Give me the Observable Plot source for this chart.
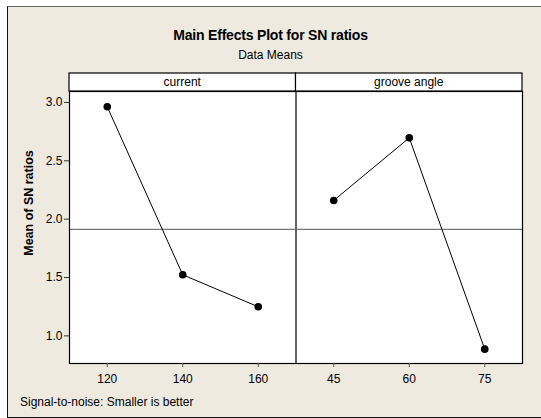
<!DOCTYPE html>
<html>
<head>
<meta charset="utf-8">
<script src="https://cdn.jsdelivr.net/npm/d3@7"></script>
<script src="https://cdn.jsdelivr.net/npm/@observablehq/plot@0.6"></script>
<style>
  html, body { margin: 0; padding: 0; background: #ffffff; }
  #wrap { position: relative; width: 541px; height: 418px; overflow: hidden; font-family: "Liberation Sans", Arial, sans-serif; }
  #panel { position: absolute; left: 7px; top: 6px; width: 560px; height: 410px;
           background: #eeeae0; border-left: 1px solid #111; border-top: 1px solid #666; border-bottom: 1px solid #111; }
  #chart { position: absolute; left: 0; top: 0; }
  .t { position: absolute; left: 0; width: 541px; text-align: center; color: #000; white-space: nowrap; }
  #title { top: 27px; font-size: 14px; font-weight: bold; letter-spacing: -0.2px; }
  #subtitle { top: 48px; font-size: 12px; }
  #caption { position: absolute; left: 20px; top: 395px; font-size: 12px; white-space: nowrap; }
</style>
</head>
<body>
<div id="wrap">
  <div id="panel"></div>
  <div id="chart"></div>
  <div class="t" id="title">Main Effects Plot for SN ratios</div>
  <div class="t" id="subtitle">Data Means</div>
  <div id="caption">Signal-to-noise: Smaller is better</div>
</div>
<script>
// ---- data ----
const factors = ["current", "groove angle"];
const currentLevels = ["120", "140", "160"];
const currentMeans = [2.963, 1.523, 1.249];
const grooveLevels = ["45", "60", "75"];
const grooveMeans = [2.160, 2.697, 0.886];
const yTicks = [1.0, 1.5, 2.0, 2.5, 3.0];
const yDomain = [0.763, 3.094];
const yLabel = "Mean of SN ratios";

// build table: each factor panel holds three evenly spaced level positions
const rows = [];
currentLevels.forEach((lv, i) => rows.push({factor: factors[0], level: lv, pos: i, mean: currentMeans[i]}));
grooveLevels.forEach((lv, i) => rows.push({factor: factors[1], level: lv, pos: 3 + i, mean: grooveMeans[i]}));
const tickLabels = rows.map(d => d.level);
const grandMean = d3.mean(rows, d => d.mean);
const panels = factors.map((f, k) => ({factor: f, x1: 3 * k - 0.5, x2: 3 * k + 2.5}));

// custom mark: the strip headers above the panels and the y-axis title
function strips(index, scales, values, dims) {
  const x = scales.x;
  const top = dims.marginTop;
  const h = 18;
  const g = d3.create("svg:g");
  for (const p of panels) {
    const a = x(p.x1), b = x(p.x2);
    g.append("rect").attr("x", a).attr("y", top - h).attr("width", b - a).attr("height", h)
      .attr("fill", "white").attr("stroke", "black").attr("stroke-width", 1.2);
    g.append("text").attr("x", (a + b) / 2).attr("y", top - h / 2).attr("dy", "0.35em")
      .attr("text-anchor", "middle").attr("font-size", 12).attr("fill", "black").text(p.factor);
  }
  const cy = (dims.marginTop + dims.height - dims.marginBottom) / 2 - 24;
  const cx = dims.marginLeft - 40;
  g.append("text").attr("transform", `translate(${cx},${cy}) rotate(-90)`).attr("dy", "0.35em")
    .attr("text-anchor", "middle").attr("font-size", 12.5).attr("font-weight", "bold")
    .attr("fill", "black").text(yLabel);
  return g.node();
}

const plot = Plot.plot({
  width: 541,
  height: 418,
  marginLeft: 69,
  marginRight: 19,
  marginTop: 91,
  marginBottom: 55,
  style: {background: "transparent", fontFamily: "'Liberation Sans', Arial, sans-serif", fontSize: "12px", color: "black", overflow: "visible"},
  x: {domain: [-0.5, 5.5]},
  y: {domain: yDomain},
  marks: [
    Plot.frame({fill: "white", stroke: "none"}),
    Plot.ruleY([grandMean], {stroke: "#555", strokeWidth: 1}),
    Plot.ruleX([panels[0].x2], {stroke: "#555", strokeWidth: 1.8}),
    Plot.line(rows, {x: "pos", y: "mean", z: "factor", stroke: "black", strokeWidth: 1}),
    Plot.dot(rows, {x: "pos", y: "mean", r: 3.8, fill: "black", stroke: "none"}),
    Plot.frame({stroke: "black", strokeWidth: 1.2}),
    Plot.axisX({ticks: rows.map(d => d.pos), tickFormat: i => tickLabels[i], tickSize: 4, tickPadding: 7, fontSize: 12, label: null, stroke: "#555"}),
    Plot.axisY({ticks: yTicks, tickFormat: d3.format(".1f"), tickSize: 5, tickPadding: 2, fontSize: 12, label: null, stroke: "#333"}),
    strips
  ]
});
document.getElementById("chart").appendChild(plot);
</script>
</body>
</html>
